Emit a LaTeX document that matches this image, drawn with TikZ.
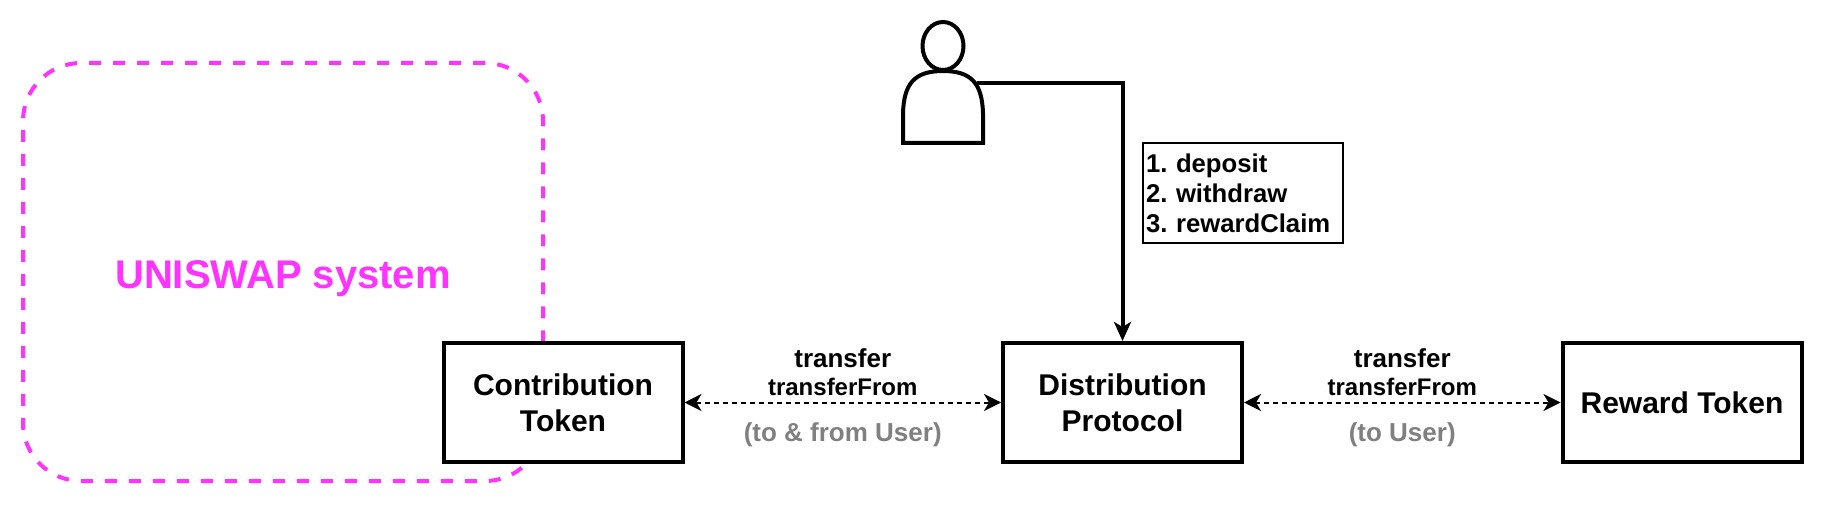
\documentclass[tikz,border=0pt]{standalone}
\usepackage{fontspec}
\setmainfont{Liberation Sans}
\usepackage{xcolor}
\usetikzlibrary{positioning, arrows.meta}
\definecolor{sysPink}{HTML}{FF33FF}
\definecolor{noteGrey}{HTML}{808080}
\tikzstyle{sysbox}   = [rectangle, rounded corners=58pt, minimum width=520pt, minimum height=418pt, text centered, draw=sysPink, line width=4pt, dash pattern=on 12pt off 12pt, text=sysPink, font=\fontsize{40}{44}\selectfont\bfseries]
\tikzstyle{tokenbox} = [rectangle, minimum width=239pt, minimum height=119pt, align=center, draw=black, fill=white, line width=4pt, font=\fontsize{30}{36}\selectfont\bfseries]
\tikzstyle{callbox}  = [rectangle, minimum height=100pt, text width=194pt, inner sep=3pt, align=left, draw=black, line width=2pt, font=\frenchspacing\fontsize{25.7}{30}\selectfont\bfseries]
\tikzstyle{xfer}     = [{Stealth[length=17pt,width=17pt,inset=5pt]}-{Stealth[length=17pt,width=17pt,inset=5pt]}, line width=2pt, dash pattern=on 5pt off 4pt]
\tikzstyle{call}     = [-{Stealth[length=19pt,width=17pt,inset=5pt]}, line width=4pt]
\tikzstyle{fnname}   = [inner sep=0pt, font=\fontsize{26}{30}\selectfont\bfseries]
\tikzstyle{fnsmall}  = [inner sep=0pt, font=\fontsize{24}{28}\selectfont\bfseries]
\tikzstyle{note}     = [inner sep=0pt, text=noteGrey, font=\fontsize{26}{30}\selectfont\bfseries]
\begin{document}
\begin{tikzpicture}[x=1pt, y=-1pt]
            \useasboundingbox (0,0) rectangle (1824,524);

            \node[sysbox]   (uniswap) at (283,272) {\raisebox{-16pt}[0pt][0pt]{UNISWAP system}};
            \node[tokenbox] (contrib) at (563,402.5) {Contribution\\Token};
            \node[tokenbox] (dist)    [right=316.5pt of contrib] {Distribution\\Protocol};
            \node[tokenbox] (reward)  [right=316.5pt of dist   ] {Reward Token};
            \node[callbox]  (calls)   at (1243,193) {1. deposit\\2. withdraw\\3. rewardClaim};

            % user figure
            \draw[line width=4pt] (943,46) ellipse (20.5pt and 24pt);
            \draw[line width=4pt] (903,143) -- (903,113) .. controls (904,84) and (914,71) .. (943,71)
                .. controls (972,71) and (982,84) .. (983,113) -- (983,143) -- cycle;
            \coordinate (user) at (977,83);

            \draw[call] (user) -| (dist.north);
            \draw[xfer] (contrib.east) -- (dist.west) coordinate[midway] (midA);
            \draw[xfer] (dist.east) -- (reward.west) coordinate[midway] (midB);

            \node[fnsmall] (fromA) [above=7pt of midA ] {transferFrom};
            \node[fnname]  (xferA) [above=10pt of fromA] {transfer};
            \node[note]    (noteA) [below=20pt of midA] {(to \& from User)};
            \node[fnsmall] (fromB) [above=7pt of midB ] {transferFrom};
            \node[fnname]  (xferB) [above=10pt of fromB] {transfer};
            \node[note]    (noteB) [below=20pt of midB] {(to User)};
        \end{tikzpicture}
\end{document}
